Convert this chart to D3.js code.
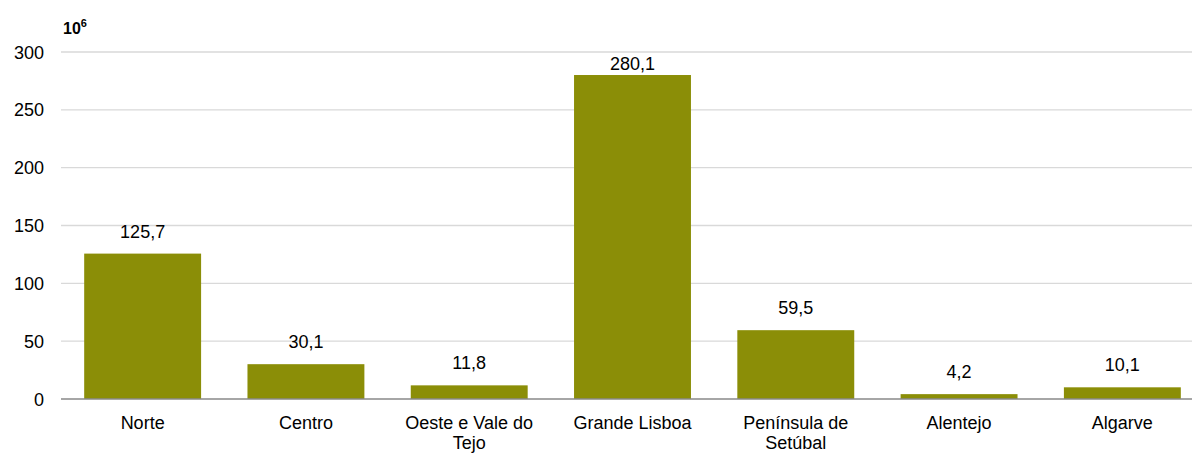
<!DOCTYPE html>
<html>
<head>
<meta charset="utf-8">
<script src="https://cdn.jsdelivr.net/npm/d3@7"></script>
<style>
  body { margin: 0; background: #fff; }
  text { font-family: "Liberation Sans", Arial, sans-serif; fill: #000; }
</style>
</head>
<body>
<script>
// Data
var regions = ["Norte", "Centro", "Oeste e Vale do Tejo", "Grande Lisboa", "Península de Setúbal", "Alentejo", "Algarve"];
var regionLines = [["Norte"], ["Centro"], ["Oeste e Vale do", "Tejo"], ["Grande Lisboa"], ["Península de", "Setúbal"], ["Alentejo"], ["Algarve"]];
var values = [125.7, 30.1, 11.8, 280.1, 59.5, 4.2, 10.1];
var yTicks = [0, 50, 100, 150, 200, 250, 300];

var W = 1192, H = 453;
var plotLeft = 61, plotRight = 1204, plotTop = 52, plotBottom = 399;

var svg = d3.select("body").append("svg")
    .attr("width", W)
    .attr("height", H);

var x = d3.scaleBand().domain(regions).range([plotLeft, plotRight])
    .paddingInner(0.284).paddingOuter(0.142);
var y = d3.scaleLinear().domain([0, 300]).range([plotBottom, plotTop]);

// grid lines
svg.append("g").selectAll("line")
    .data(yTicks.filter(function(d) { return d > 0; }))
    .enter().append("line")
    .attr("x1", plotLeft).attr("x2", W)
    .attr("y1", function(d) { return y(d); })
    .attr("y2", function(d) { return y(d); })
    .attr("stroke", "#d9d9d9")
    .attr("stroke-width", 1.3);

// y tick labels
svg.append("g").selectAll("text")
    .data(yTicks)
    .enter().append("text")
    .attr("x", 44)
    .attr("y", function(d) { return y(d) + 6.5; })
    .attr("text-anchor", "end")
    .style("font-size", "18px")
    .text(function(d) { return d; });

// unit
var unit = svg.append("text")
    .attr("x", 63).attr("y", 34)
    .style("font-size", "16px")
    .style("font-weight", "bold")
    .text("10");
unit.append("tspan").attr("dy", -7).style("font-size", "11px").text("6");

// bars
svg.append("g").selectAll("rect")
    .data(values)
    .enter().append("rect")
    .attr("x", function(d, i) { return x(regions[i]); })
    .attr("y", function(d) { return y(d); })
    .attr("width", x.bandwidth())
    .attr("height", function(d) { return y(0) - y(d); })
    .attr("fill", "#8b8e07");

// axis line
svg.append("line")
    .attr("x1", plotLeft).attr("x2", W)
    .attr("y1", y(0)).attr("y2", y(0))
    .attr("stroke", "#898989")
    .attr("stroke-width", 1.5);

// value labels
svg.append("g").selectAll("text")
    .data(values)
    .enter().append("text")
    .attr("x", function(d, i) { return x(regions[i]) + x.bandwidth() / 2; })
    .attr("y", function(d) { return Math.max(y(d) - 16, 70); })
    .attr("text-anchor", "middle")
    .style("font-size", "18px")
    .text(function(d) { return d3.format(".1f")(d).replace(".", ","); });

// category labels
var cat = svg.append("g").selectAll("text")
    .data(regionLines)
    .enter().append("text")
    .attr("x", function(d, i) { return x(regions[i]) + x.bandwidth() / 2; })
    .attr("y", 429)
    .attr("text-anchor", "middle")
    .style("font-size", "18px");
cat.selectAll("tspan")
    .data(function(d) { return d; })
    .enter().append("tspan")
    .attr("x", function() { return d3.select(this.parentNode).attr("x"); })
    .attr("dy", function(d, j) { return j === 0 ? 0 : 20; })
    .text(function(d) { return d; });
</script>
</body>
</html>
